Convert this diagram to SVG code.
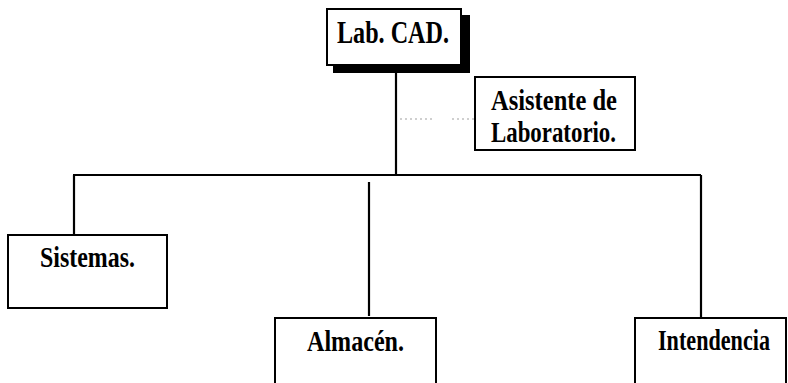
<svg xmlns="http://www.w3.org/2000/svg" width="788" height="383" viewBox="0 0 788 383">
  <style>
    .box { fill: #ffffff; stroke: #000000; stroke-width: 2; }
    .shadow { fill: #000000; }
    .lbl { font-family: "Liberation Serif", "Times New Roman", serif; font-weight: bold; fill: #000000; }
    .link { fill: none; stroke: #000000; stroke-width: 2.2; }
    .staff { fill: none; stroke: #a0a0a0; stroke-width: 1.2; stroke-dasharray: 2 3; }
  </style>
  <rect width="788" height="383" fill="#ffffff"/>

  <!-- connectors -->
  <g id="connectors">
    <path class="link" d="M396 65 V175"/>
    <path class="link" d="M73 175 H701" stroke-width="2.6"/>
    <path class="link" d="M74 175 V235"/>
    <path class="link" d="M369 182 V316"/>
    <path class="link" d="M701 175 V318"/>
    <path class="staff" d="M400 119 H434 M452 119 H475"/>
  </g>

  <!-- head of the lab -->
  <g id="lab-cad">
    <rect class="shadow" x="333" y="15" width="137" height="58"/>
    <rect class="box" x="327" y="9" width="134" height="56"/>
    <text class="lbl" x="337" y="43" font-size="31" textLength="112" lengthAdjust="spacingAndGlyphs">Lab. CAD.</text>
  </g>

  <!-- staff position -->
  <g id="asistente">
    <rect class="box" x="475" y="77" width="160" height="73"/>
    <text class="lbl" x="491" y="110" font-size="30" textLength="126" lengthAdjust="spacingAndGlyphs">Asistente de</text>
    <text class="lbl" x="491" y="142" font-size="30" textLength="125" lengthAdjust="spacingAndGlyphs">Laboratorio.</text>
  </g>

  <!-- departments -->
  <g id="sistemas">
    <rect class="box" x="8" y="235" width="159" height="73"/>
    <text class="lbl" x="40" y="267" font-size="29" textLength="95" lengthAdjust="spacingAndGlyphs">Sistemas.</text>
  </g>

  <g id="almacen">
    <rect class="box" x="275" y="318" width="161" height="72"/>
    <text class="lbl" x="307" y="351" font-size="29" textLength="97" lengthAdjust="spacingAndGlyphs">Almacén.</text>
  </g>

  <g id="intendencia">
    <rect class="box" x="635" y="318" width="151" height="72"/>
    <!-- narrow face: squeeze horizontally -->
    <text class="lbl" transform="translate(658 350) scale(0.764 1)" x="0" y="0" font-size="29">Intendencia</text>
  </g>
</svg>
